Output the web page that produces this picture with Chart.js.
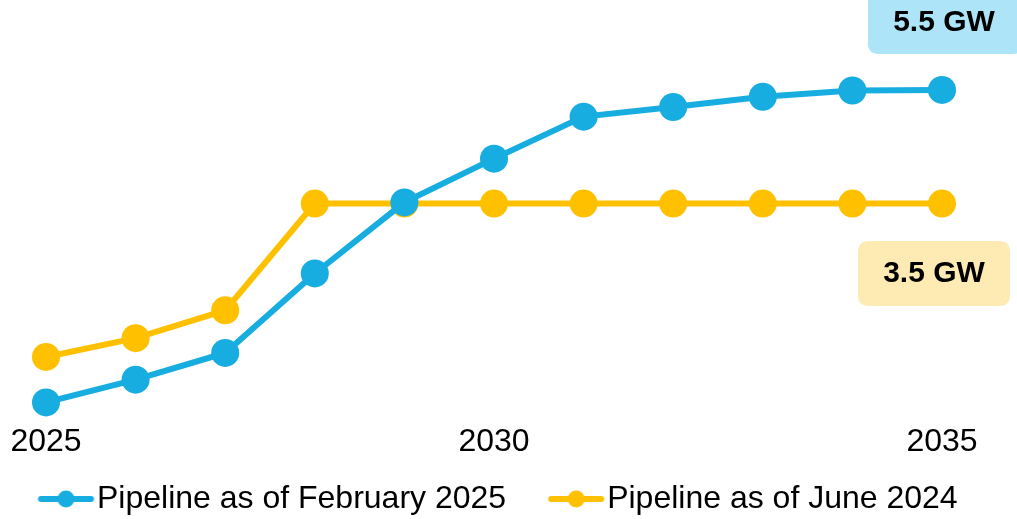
<!DOCTYPE html>
<html>
<head>
<meta charset="utf-8">
<script src="https://cdn.jsdelivr.net/npm/chart.js@4"></script>
<style>
  html, body { margin: 0; padding: 0; background: #fff; }
  #wrap { width: 1017px; height: 519px; }
</style>
</head>
<body>
<div id="wrap"><canvas id="myChart"></canvas></div>
<script>
var years = [2025, 2026, 2027, 2028, 2029, 2030, 2031, 2032, 2033, 2034, 2035];
var feb2025 = [0, 0.4, 0.87, 2.27, 3.52, 4.29, 5.03, 5.2, 5.38, 5.49, 5.5];
var jun2024 = [0.8, 1.13, 1.62, 3.5, 3.5, 3.5, 3.5, 3.5, 3.5, 3.5, 3.5];
var xTicks = [2025, 2030, 2035];
var seriesNames = ['Pipeline as of February 2025', 'Pipeline as of June 2024'];

var blue = '#17ade0';
var gold = '#ffc000';
var FONT = '"Liberation Sans", Arial, sans-serif';
var FS = 32;
var LEG_PAD = 4;
var BOX_W = 81;
var PAD_L = -4;   // only pulls the legend left, the plot area stays at 0
var PAD_R = 20;

// x range is widened a bit so the plot spans 46..942 px while the
// legend gets the whole canvas width
var pxPerYear = (942 - 46) / (years[years.length - 1] - years[0]);
var axisMin = years[0] - 46 / pxPerYear;
var axisMax = years[years.length - 1] + (1017 - PAD_R - 942) / pxPerYear;

function toPoints(vals) {
  return years.map(function(y, i) { return { x: y, y: vals[i] }; });
}

// legend marker: short line with a dot, sitting just before the label text
function legendMarker(color) {
  var left = BOX_W / 2 - 43;
  var right = BOX_W / 2 + 13;
  var half = Math.ceil(Math.max(Math.abs(left), Math.abs(right))) + 2;
  var c = document.createElement('canvas');
  c.width = half * 2; c.height = 18;
  var g = c.getContext('2d');
  var x0 = half + left, x1 = half + right;
  g.strokeStyle = color;
  g.lineWidth = 6;
  g.lineCap = 'round';
  g.beginPath(); g.moveTo(x0 + 3, 9); g.lineTo(x1 - 3, 9); g.stroke();
  g.fillStyle = color;
  g.beginPath(); g.arc((x0 + x1) / 2, 9, 8.5, 0, Math.PI * 2); g.fill();
  return c;
}
var markers = [legendMarker(blue), legendMarker(gold)];

function roundBox(ctx, x, y, w, h, r, fill) {
  ctx.beginPath();
  ctx.moveTo(x + r, y);
  ctx.lineTo(x + w - r, y);
  ctx.quadraticCurveTo(x + w, y, x + w, y + r);
  ctx.lineTo(x + w, y + h - r);
  ctx.quadraticCurveTo(x + w, y + h, x + w - r, y + h);
  ctx.lineTo(x + r, y + h);
  ctx.quadraticCurveTo(x, y + h, x, y + h - r);
  ctx.lineTo(x, y + r);
  ctx.quadraticCurveTo(x, y, x + r, y);
  ctx.closePath();
  ctx.fillStyle = fill;
  ctx.fill();
}

var endLabels = {
  id: 'endLabels',
  afterDraw: function(chart) {
    var ctx = chart.ctx;
    ctx.save();
    roundBox(ctx, 868, -12, 156, 66, 11, '#ade4f7');
    roundBox(ctx, 858, 241, 152, 65, 11, '#feebb4');
    ctx.fillStyle = '#000';
    ctx.font = 'bold 30px ' + FONT;
    ctx.textAlign = 'center';
    ctx.textBaseline = 'middle';
    ctx.fillText(feb2025[feb2025.length - 1] + ' GW', 944, 23);
    ctx.fillText(jun2024[jun2024.length - 1] + ' GW', 934, 274);
    ctx.restore();
  }
};

var ctx = document.getElementById('myChart');
var myChart = new Chart(ctx, {
  type: 'line',
  data: {
    datasets: [{
      label: seriesNames[0],
      data: toPoints(feb2025),
      borderColor: blue,
      backgroundColor: blue,
      borderWidth: 6,
      pointRadius: 14,
      pointBorderWidth: 0,
      pointBackgroundColor: blue,
      clip: false
    }, {
      label: seriesNames[1],
      data: toPoints(jun2024),
      borderColor: gold,
      backgroundColor: gold,
      borderWidth: 6,
      pointRadius: 14,
      pointBorderWidth: 0,
      pointBackgroundColor: gold,
      clip: false
    }]
  },
  options: {
    responsive: true,
    maintainAspectRatio: false,
    animation: false,
    layout: { autoPadding: false, padding: { left: PAD_L, right: PAD_R, top: 0, bottom: -6 } },
    scales: {
      x: {
        type: 'linear',
        min: axisMin,
        max: axisMax,
        grid: { display: false, drawTicks: true, tickLength: 3 },
        border: { display: false },
        afterBuildTicks: function(axis) {
          axis.ticks = xTicks.map(function(v) { return { value: v }; });
        },
        ticks: {
          color: '#000',
          padding: 0,
          maxRotation: 0,
          font: { family: FONT, size: FS, lineHeight: 2.3 },
          callback: function(v) { return String(v); }
        }
      },
      y: {
        display: false,
        min: 0,
        max: 7.083
      }
    },
    plugins: {
      legend: {
        position: 'bottom',
        align: 'start',
        labels: {
          color: '#000',
          font: { family: FONT, size: FS },
          usePointStyle: true,
          pointStyleWidth: BOX_W,
          padding: LEG_PAD,
          generateLabels: function(chart) {
            return chart.data.datasets.map(function(ds, i) {
              return {
                text: ds.label,
                pointStyle: markers[i],
                fillStyle: ds.borderColor,
                strokeStyle: ds.borderColor,
                lineWidth: 0,
                hidden: false,
                datasetIndex: i
              };
            });
          }
        }
      },
      tooltip: { enabled: false }
    }
  },
  plugins: [endLabels]
});
</script>
</body>
</html>
